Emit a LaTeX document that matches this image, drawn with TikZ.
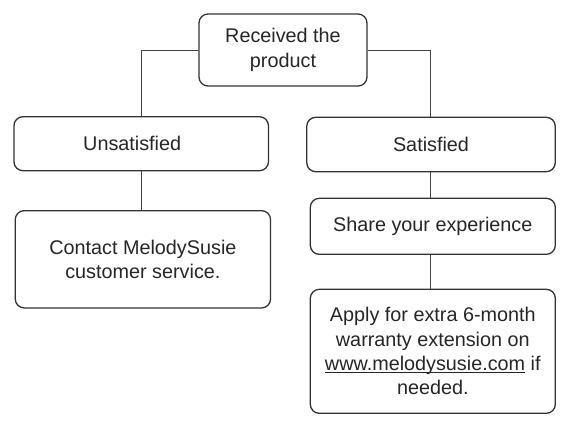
\documentclass[tikz,border=0pt]{standalone}
\usepackage{fontspec}
\setmainfont{Liberation Sans}
\definecolor{txt}{HTML}{262626}
\definecolor{edge}{HTML}{333333}
\definecolor{wire}{HTML}{444444}
\newcommand\myul[1]{\setbox0\hbox{#1}\rlap{\rule[-1.8pt]{\wd0}{0.8pt}}\box0\relax}
\begin{document}
\begin{tikzpicture}[x=1pt,y=-1pt,
  box/.style={draw=edge, line width=1.3pt, rounded corners=9pt, align=center,
    font=\fontsize{19.8}{24.3}\selectfont, text=txt, inner sep=0pt},
  conn/.style={draw=wire, line width=0.9pt}]
\useasboundingbox (0,0) rectangle (567,426);
\node[box, minimum width=168pt, minimum height=72pt] (recv) at (283,50) {Received the\\product};
\node[box, minimum width=254.5pt, minimum height=54pt] (uns) at (141.2,143.7) {Unsatisfied\hspace*{18pt}};
\node[box, minimum width=248.5pt, minimum height=54.4pt] (sat) at (431,144.5) {Satisfied};
\node[box, minimum width=255.3pt, minimum height=97.3pt] (cont) at (142.9,259.3) {Contact MelodySusie\\customer service.};
\node[box, minimum width=245pt, minimum height=56pt] (share) at (432.8,226.3) {Share your experience};
\node[box, minimum width=245pt, minimum height=124pt] (apply) at (432.8,351.3) {Apply for extra 6-month\\warranty extension on\\\myul{www.melodysusie.com} if\\needed.};
\coordinate (lft) at (141.5,0);
\coordinate (rgt) at (430.5,0);
\draw[conn] (recv.west) -| (lft |- uns.north);
\draw[conn] (recv.east) -| (rgt |- sat.north);
\draw[conn] (lft |- uns.south) -- (lft |- cont.north);
\draw[conn] (rgt |- sat.south) -- (rgt |- share.north);
\draw[conn] (rgt |- share.south) -- (rgt |- apply.north);
\end{tikzpicture}
\end{document}
